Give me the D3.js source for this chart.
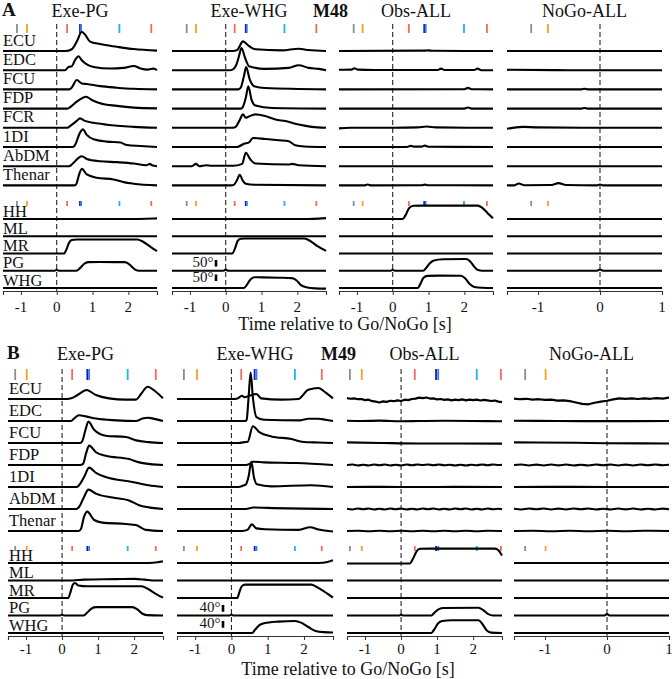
<!DOCTYPE html>
<html><head><meta charset="utf-8">
<script src="https://cdn.jsdelivr.net/npm/d3@7"></script>
<style>body{margin:0;background:#fff} svg{display:block} text{font-family:'Liberation Serif','DejaVu Serif',serif}</style>
</head><body><svg id="c" width="672" height="679"></svg>
<script>
// ---------------- DATA ----------------
const musclesA = ['ECU','EDC','FCU','FDP','FCR','1DI','AbDM','Thenar'];
const musclesB = ['ECU','EDC','FCU','FDP','1DI','AbDM','Thenar'];
const kinLabels = ['HH','ML','MR','PG','WHG'];
const colTitles = ['Exe-PG','Exe-WHG','Obs-ALL','NoGo-ALL'];
const domainExe = [-1.5, 2.8];
const domainNoGo = [-1.5, 1];
const ticksExe = [-1, 0, 1, 2];
const ticksNoGo = [-1, 0, 1];
const markerColors = ['#7f8ea0','#f5a31c','#f26b5b','#1a1aa8','#2f7cff','#1ab4f0','#f26b5b'];

// event marker times [s]
const A_exePG_events = [-1.11,-0.83,0.29,0.65,0.68,1.75,2.64];
const A_exeWHG_events = [-1.09,-0.83,0.25,0.56,0.59,1.64,2.53];
const A_obs_events = [-1.09,-0.84,0.45,0.88,0.92,1.99,2.63];
const A_nogo_events = [-1.11,-0.84];
const B_exePG_events = [-1.30,-0.98,0.28,0.70,0.75,1.82,2.60];
const B_exeWHG_events = [-1.31,-0.95,0.27,0.64,0.69,1.75,2.49];
const B_obs_events = [-1.42,-1.09,0.38,0.97,1.03,2.10,2.77];
const B_nogo_events = [-1.32,-0.99];

// EMG envelopes: [time s, amplitude in row units]
const A_exePG_emg = [
 [[-1.5,0],[0.25,0],[0.42,0.09],[0.56,0.49],[0.7,1.0],[0.8,0.83],[0.93,0.49],[1.21,0.36],[1.68,0.22],[2.15,0.1],[2.8,0.02]],
 [[-1.5,0],[0.23,0],[0.33,0.17],[0.42,0.2],[0.51,0.52],[0.61,0.73],[0.7,0.52],[0.84,0.3],[1.03,0.17],[1.5,0.09],[1.87,0.12],[2.15,0.22],[2.34,0.09],[2.55,0.03],[2.62,0.06],[2.7,0.08],[2.8,0.0]],
 [[-1.5,0],[0.35,0],[0.42,0.1],[0.56,0.49],[0.7,0.31],[0.84,0.28],[1.21,0.17],[1.68,0.09],[2.15,0.03],[2.8,0]],
 [[-1.5,0],[0.3,0],[0.37,0.07],[0.56,0.36],[0.82,0.62],[0.98,0.45],[1.21,0.28],[1.68,0.14],[2.15,0.05],[2.8,0.01]],
 [[-1.5,0],[0.3,0],[0.37,0.09],[0.56,0.36],[0.65,0.49],[0.79,0.36],[1.03,0.26],[1.4,0.16],[2.15,0.05],[2.8,0]],
 [[-1.5,0],[0.45,0],[0.51,0.1],[0.64,0.71],[0.73,0.92],[0.84,0.63],[1.03,0.4],[1.4,0.28],[1.78,0.23],[1.96,0.1],[2.34,0.05],[2.8,0]],
 [[-1.5,0],[0.35,0],[0.42,0.09],[0.61,0.43],[0.7,0.52],[0.84,0.38],[1.21,0.26],[1.68,0.21],[2.15,0.14],[2.5,0.05],[2.6,0.12],[2.66,0.05],[2.8,0]],
 [[-1.5,0],[0.48,0],[0.54,0.05],[0.64,0.66],[0.7,0.87],[0.84,0.57],[1.12,0.4],[1.59,0.31],[1.87,0.17],[2.15,0.09],[2.8,0]]
];
const A_exeWHG_emg = [
 [[-1.5,0],[0.2,0],[0.32,0.05],[0.48,0.5],[0.65,0.26],[0.83,0.09],[1.57,0.03],[2.04,0.12],[2.31,0.05],[2.8,0]],
 [[-1.5,0],[0.1,0],[0.19,0.03],[0.3,0.3],[0.37,0.73],[0.44,1.16],[0.54,0.64],[0.65,0.21],[1.1,0.07],[1.76,0.12],[2.04,0.26],[2.31,0.12],[2.6,0.07],[2.8,0]],
 [[-1.5,0],[0.35,0],[0.42,0.09],[0.51,0.7],[0.57,1.16],[0.67,0.52],[0.79,0.17],[1.1,0.07],[2.8,0]],
 [[-1.5,0],[0.42,0],[0.48,0.09],[0.56,0.56],[0.63,1.16],[0.72,0.47],[0.83,0.16],[1.3,0.03],[2.8,0]],
 [[-1.5,0],[0.2,0],[0.28,0.05],[0.39,0.4],[0.48,0.7],[0.56,0.52],[0.63,0.57],[0.83,0.7],[1.1,0.61],[1.39,0.43],[1.67,0.35],[2.04,0.17],[2.4,0.05],[2.8,0]],
 [[-1.5,0],[0.3,0],[0.37,0.03],[0.51,0.17],[0.65,0.24],[0.76,0.47],[1.1,0.42],[1.48,0.35],[1.76,0.3],[1.94,0.09],[2.2,0.03],[2.8,0]],
 [[-1.5,0],[-0.95,0],[-0.83,0.12],[-0.74,0],[-0.55,0.05],[-0.4,0.02],[0.2,0.02],[0.46,0.12],[0.56,0.7],[0.69,0.35],[0.83,0.14],[1.76,0.09],[1.85,0.12],[2.04,0.05],[2.8,0]],
 [[-1.5,0],[0.15,0],[0.23,0.03],[0.32,0.3],[0.39,0.55],[0.48,0.24],[0.56,0.09],[0.8,0.03],[2.8,0]]
];
const A_obs_emg = [
 [[-1.5,0],[0.9,0.02],[1.0,0.03],[1.1,0.01],[2.8,0]],
 [[-1.5,0.02],[-1.15,0.03],[-1.07,0.1],[-0.98,0.03],[-0.5,0.01],[1.25,0.01],[1.35,0.08],[1.45,0.01],[2.27,0.01],[2.37,0.08],[2.47,0.0],[2.8,0]],
 [[-1.5,0],[2.0,0.01],[2.1,0.08],[2.2,0.01],[2.8,0]],
 [[-1.5,0],[2.0,0.0],[2.1,0.06],[2.2,0.0],[2.8,0]],
 [[-1.5,-0.03],[-1.2,0],[0,0],[0.7,0.02],[0.94,0.07],[1.2,0.02],[2.8,0]],
 [[-1.5,0],[0.4,0],[0.5,0.06],[0.6,0.02],[0.8,0.02],[0.9,0.07],[1.0,0.01],[2.8,0]],
 [[-1.5,0],[2.8,0]],
 [[-1.5,0],[-0.8,0],[-0.7,0.05],[-0.6,0],[0.8,0.01],[0.9,0.04],[1.0,0.01],[2.8,0]]
];
const A_nogo_emg = [
 [[-1.5,0],[1,0]],
 [[-1.5,0.02],[-0.5,0.0],[1,0]],
 [[-1.5,0],[-0.3,0.0],[-0.25,0.03],[-0.2,0],[1,0]],
 [[-1.5,0],[-0.3,0],[-0.25,0.03],[-0.2,0],[1,0]],
 [[-1.5,-0.05],[-1.25,0.05],[-1.0,0.02],[0,0],[1,0]],
 [[-1.5,0],[1,0]],
 [[-1.5,0],[1,0]],
 [[-1.5,0],[-1.38,0],[-1.31,0.1],[-1.22,0.01],[-0.78,0.02],[-0.67,0.12],[-0.55,0.02],[-0.05,0],[0,0.05],[0.05,0],[1,0]]
];
const B_exePG_emg = [
 [[-1.5,0],[0.15,0],[0.25,0.03],[0.43,0.18],[0.68,0.41],[0.94,0.18],[1.3,0.03],[1.77,-0.03],[2.05,-0.03],[2.2,0.25],[2.37,0.56],[2.6,0.33],[2.8,0.03]],
 [[-1.5,0],[0.25,0],[0.33,0.11],[0.47,0.26],[0.66,0.21],[0.94,0.11],[1.5,0.03],[2.05,0],[2.23,0.11],[2.37,0.15],[2.5,0.12],[2.8,0]],
 [[-1.5,0],[0.5,0],[0.56,0.08],[0.65,0.6],[0.73,0.98],[0.89,0.6],[1.21,0.33],[1.77,0.27],[2.05,0.12],[2.4,0.04],[2.8,0]],
 [[-1.5,0],[0.5,0],[0.58,0.05],[0.67,0.55],[0.75,0.88],[0.94,0.58],[1.21,0.42],[1.86,0.27],[2.14,0.12],[2.5,0.03],[2.8,0]],
 [[-1.5,0],[0.4,0],[0.47,0.08],[0.61,0.45],[0.75,0.88],[0.94,0.64],[1.21,0.45],[1.95,0.23],[2.4,0.08],[2.8,0]],
 [[-1.5,0],[0.4,0],[0.47,0.09],[0.61,0.55],[0.73,0.88],[0.94,0.7],[1.4,0.52],[1.86,0.39],[2.14,0.17],[2.5,0.05],[2.8,0]],
 [[-1.5,0],[0.45,0],[0.52,0.08],[0.61,0.65],[0.7,0.88],[0.89,0.5],[1.12,0.38],[1.77,0.32],[2.05,0.27],[2.32,0.05],[2.8,0]]
];
const B_exeWHG_emg = [
 [[-1.5,0],[0.1,0],[0.18,0.03],[0.29,0.15],[0.36,0.08],[0.5,0.15],[0.69,0.23],[0.82,0.03],[1.37,-0.03],[1.84,0],[2.12,0.42],[2.4,0.5],[2.59,0.3],[2.8,0.03]],
 [[-1.5,0],[0.38,0],[0.42,0.05],[0.47,1.0],[0.53,2.2],[0.59,1.1],[0.69,0.18],[0.9,0.06],[1.9,0.03],[2.12,0.1],[2.4,0.1],[2.59,0.06],[2.8,0]],
 [[-1.5,0],[0.2,0],[0.32,0.03],[0.45,0.06],[0.59,0.76],[0.78,0.48],[1.1,0.3],[1.66,0.18],[1.94,0.06],[2.4,0.02],[2.8,0]],
 [[-1.5,0],[0.4,0],[0.5,0.05],[0.6,0.15],[0.9,0.12],[1.8,0.09],[2.8,0]],
 [[-1.5,0],[0.2,0],[0.3,0.05],[0.4,0.12],[0.47,0.45],[0.55,1.14],[0.62,0.45],[0.7,0.12],[1.1,0.03],[2.2,0.08],[2.8,0]],
 [[-1.5,0],[0.4,0],[0.6,0.07],[1.0,0.05],[2.8,0]],
 [[-1.5,0],[0.3,0],[0.45,0.06],[0.56,0.3],[0.69,0.12],[0.92,0.08],[1.85,0.05],[2.17,0.17],[2.4,0.07],[2.8,-0.02]]
];
// noisy ECU traces, sampled every 0.1 s from -1.5 s
const B_obs_ECU = [0.04,0.01,0.03,-0.01,0.0,-0.05,-0.03,-0.1,-0.12,-0.16,-0.11,-0.13,-0.08,-0.1,-0.06,-0.09,-0.03,-0.05,0.0,0.02,0.06,0.04,0.07,0.02,0.03,-0.02,0.0,-0.04,-0.02,-0.06,-0.03,-0.05,-0.02,-0.06,-0.03,-0.05,-0.03,-0.07,-0.04,-0.06,-0.09,-0.07,-0.12,-0.14];
const B_nogo_ECU = [0.02,-0.01,0.01,-0.03,-0.01,-0.04,-0.03,-0.07,-0.06,-0.1,-0.16,-0.22,-0.24,-0.17,-0.12,-0.08,-0.02,0.03,0.01,0.03,0.0,0.03,0.01,0.04,0.02,0.06];
const B_obs_emg = [
 null,
 [[-1.5,0.01],[-1.1,0.0],[-0.6,0.015],[0,-0.01],[0.5,0.0],[1.2,0.01],[2.0,0.0],[2.8,-0.01]],
 [[-1.5,0.03],[-0.5,0.0],[0.5,-0.02],[1.5,-0.02],[2.8,-0.03]],
 [[-1.5,0],[-1.35,0.02],[-1.2,-0.02],[-1.05,0.01],[-0.9,-0.02],[-0.75,0.02],[-0.6,-0.01],[-0.45,0.02],[-0.3,-0.02],[-0.15,0.01],[0,-0.02],[0.15,0.02],[0.3,-0.01],[0.45,0.02],[0.6,0.0],[0.75,0.02],[0.9,-0.01],[1.05,0.02],[1.2,-0.01],[1.35,0.01],[1.5,-0.02],[1.65,0.01],[1.8,-0.02],[1.95,0.01],[2.1,-0.01],[2.25,0.02],[2.4,-0.01],[2.55,0.02],[2.7,0.0],[2.8,0.01]],
 [[-1.5,0],[-0.5,0.005],[0.5,0],[1.5,0.005],[2.8,0]],
 [[-1.5,0.01],[-1.35,-0.02],[-1.2,0.02],[-1.05,-0.01],[-0.9,0.02],[-0.75,-0.02],[-0.6,0.01],[-0.45,-0.02],[-0.3,0.02],[-0.15,-0.01],[0,0.02],[0.15,-0.02],[0.3,0.01],[0.45,-0.02],[0.6,0.02],[0.75,-0.01],[0.9,0.02],[1.05,-0.02],[1.2,0.01],[1.35,-0.02],[1.5,0.02],[1.65,-0.01],[1.8,0.02],[1.95,-0.02],[2.1,0.01],[2.25,-0.02],[2.4,0.02],[2.55,-0.01],[2.7,0.01],[2.8,-0.01]],
 [[-1.5,0],[-1.2,0.01],[-0.9,-0.01],[-0.6,0.01],[-0.3,-0.01],[0,0.01],[0.3,-0.01],[0.6,0.01],[0.9,-0.01],[1.2,0.01],[1.5,-0.01],[1.8,0.01],[2.1,-0.01],[2.4,0.01],[2.8,0]]
];
const B_nogo_emg = [
 null,
 [[-1.5,0.01],[-0.8,0.0],[0,-0.005],[1,0.0]],
 [[-1.5,0.03],[-0.5,0.01],[0,-0.01],[1,-0.02]],
 [[-1.5,0],[-1.38,0.02],[-1.26,-0.02],[-1.14,0.015],[-1.02,-0.02],[-0.9,0.02],[-0.78,-0.015],[-0.66,0.02],[-0.54,-0.02],[-0.42,0.01],[-0.3,-0.02],[-0.18,0.02],[-0.06,-0.01],[0.06,0.02],[0.18,-0.02],[0.3,0.015],[0.42,-0.02],[0.54,0.02],[0.66,-0.01],[0.78,0.02],[0.9,-0.01],[1,0.01]],
 [[-1.5,0],[-0.5,0.005],[0.5,0],[1,0]],
 [[-1.5,0.01],[-1.38,-0.02],[-1.26,0.02],[-1.14,-0.01],[-1.02,0.02],[-0.9,-0.02],[-0.78,0.015],[-0.66,-0.02],[-0.54,0.02],[-0.42,-0.01],[-0.3,0.02],[-0.18,-0.02],[-0.06,0.01],[0.06,-0.02],[0.18,0.02],[0.3,-0.015],[0.42,0.02],[0.54,-0.02],[0.66,0.01],[0.78,-0.02],[0.9,0.015],[1,-0.01]],
 [[-1.5,0],[-1.2,0.01],[-0.9,-0.01],[-0.6,0.01],[-0.3,-0.01],[0,0.01],[0.3,-0.01],[0.6,0.01],[1,0]]
];

// Kinematics: [time s, angle in degrees]
const A_exePG_kin = [
 [[-1.5,0],[2.1,0],[2.5,2],[2.8,5]],
 [[-1.5,0],[2.8,0]],
 [[-1.5,0],[0.2,0],[0.27,30],[0.34,80],[0.42,104],[0.55,108],[2.25,108],[2.4,92],[2.6,55],[2.8,18]],
 [[-1.5,0],[-0.06,0],[0,8],[0.06,0],[0.55,0],[0.65,20],[0.76,52],[0.88,66],[1.2,67],[1.9,66],[2.0,55],[2.1,30],[2.2,7],[2.3,0],[2.8,0]],
 [[-1.5,0],[2.8,0]]
];
const A_exeWHG_kin = [
 [[-1.5,0],[2.3,0],[2.6,3],[2.8,7]],
 [[-1.5,0],[2.8,0]],
 [[-1.5,0],[0.18,0],[0.26,40],[0.33,95],[0.42,114],[0.55,115],[2.2,115],[2.35,98],[2.55,58],[2.8,20]],
 [[-1.5,0],[-0.06,0],[0,9],[0.06,0],[2.8,0]],
 [[-1.5,0],[0.5,0],[0.58,20],[0.68,62],[0.8,83],[1.0,82],[1.5,79],[1.85,76],[1.98,58],[2.1,22],[2.25,5],[2.5,-3],[2.8,-5]]
];
const A_obs_kin = [
 [[-1.5,0],[0.28,0],[0.36,30],[0.46,85],[0.58,102],[0.8,103],[2.38,103],[2.5,85],[2.65,45],[2.8,5]],
 [[-1.5,0],[2.8,0]],
 [[-1.5,0],[2.8,0]],
 [[-1.5,0],[-0.06,0],[0,8],[0.06,0],[0.85,0],[0.93,20],[1.03,55],[1.15,78],[1.4,88],[2.05,90],[2.15,75],[2.28,30],[2.38,5],[2.5,0],[2.8,0]],
 [[-1.5,0],[0.7,0],[0.77,30],[0.86,78],[0.97,93],[1.3,95],[1.9,94],[2.02,75],[2.15,30],[2.28,8],[2.5,2],[2.8,0]]
];
const A_nogo_kin = [
 [[-1.5,0],[1,0]],
 [[-1.5,0],[1,0]],
 [[-1.5,0],[1,0]],
 [[-1.5,0],[-0.05,0],[0,10],[0.05,0],[1,0]],
 [[-1.5,0],[1,0]]
];
const B_exePG_kin = [
 [[-1.5,0],[2.4,0],[2.65,4],[2.8,10]],
 [[-1.5,0],[0.3,0],[0.6,5],[1.5,8],[2.0,10],[2.3,5],[2.5,0],[2.8,0]],
 [[-1.5,0],[0.17,0],[0.24,40],[0.3,80],[0.36,90],[0.45,75],[0.7,70],[2.2,70],[2.4,52],[2.6,25],[2.8,2]],
 [[-1.5,0],[-0.05,0],[0,6],[0.05,0],[0.6,0],[0.7,18],[0.82,42],[0.95,50],[1.95,50],[2.08,38],[2.22,12],[2.35,2],[2.8,0]],
 [[-1.5,0],[2.8,0]]
];
const B_exeWHG_kin = [
 [[-1.5,0],[2.4,0],[2.65,6],[2.8,16]],
 [[-1.5,0],[2.8,0]],
 [[-1.5,0],[0.16,0],[0.22,35],[0.29,72],[0.38,80],[2.2,80],[2.35,66],[2.55,40],[2.8,2]],
 [[-1.5,0],[-0.05,0],[0,6],[0.05,0],[2.8,0]],
 [[-1.5,0],[0.57,0],[0.66,22],[0.78,48],[0.9,58],[1.3,68],[1.75,72],[1.92,62],[2.12,36],[2.32,12],[2.55,5],[2.8,3]]
];
const B_obs_kin = [
 [[-1.5,-3],[0.24,-3],[0.33,25],[0.43,70],[0.53,85],[0.8,86],[2.6,86],[2.7,76],[2.8,45]],
 [[-1.5,0],[2.8,0]],
 [[-1.5,0],[2.8,0]],
 [[-1.5,0],[-0.05,0],[0,6],[0.05,0],[0.84,0],[0.93,18],[1.05,38],[1.18,45],[2.15,46],[2.28,32],[2.42,8],[2.55,0],[2.8,0]],
 [[-1.5,0],[0.84,0],[0.93,25],[1.03,58],[1.14,72],[1.4,76],[2.15,76],[2.26,52],[2.38,15],[2.5,2],[2.8,0]]
];
const B_nogo_kin = [
 [[-1.5,0],[1,0]],
 [[-1.5,0],[1,0]],
 [[-1.5,0],[1,0]],
 [[-1.5,0],[-0.05,0],[0,8],[0.05,0],[1,0]],
 [[-1.5,0],[1,0]]
];
const scaleBarA = 50, scaleBarB = 40;

// ---------------- DRAW ----------------
const FONT = "'Liberation Serif','DejaVu Serif',serif";
const svg = d3.select('#c');

B_obs_emg[0] = B_obs_ECU.map((v,i)=>[-1.5 + i*0.1, v]);
B_nogo_emg[0] = B_nogo_ECU.map((v,i)=>[-1.5 + i*0.1, v]);

const panels = [
 { letter:'A', monkey:'M48', muscles:musclesA,
   cols:[
    {domain:domainExe, ticks:ticksExe, events:A_exePG_events, emg:A_exePG_emg, kin:A_exePG_kin},
    {domain:domainExe, ticks:ticksExe, events:A_exeWHG_events, emg:A_exeWHG_emg, kin:A_exeWHG_kin},
    {domain:domainExe, ticks:ticksExe, events:A_obs_events, emg:A_obs_emg, kin:A_obs_kin},
    {domain:domainNoGo, ticks:ticksNoGo, events:A_nogo_events, emg:A_nogo_emg, kin:A_nogo_kin}],
   colX:[[3,157],[172,326],[339,493],[507,662]],
   letterX:2, labelX:3, titleY:16.5, monkeyX:313,
   emgMarkY:[24,33], kinMarkY:[201,206],
   emgBase0:51, emgStep:19.2, kinBase0:219, kinStep:17.25,
   axisY:291, tickLabelY:312, xlabelY:329.5, xlabelX:345,
   pxPerDeg:6.5/50, bar:scaleBarA, barTextX:213.5, barX:214.7, bars:[[260,266.5],[274.5,281]],
   noisyCols:[] },
 { letter:'B', monkey:'M49', muscles:musclesB,
   cols:[
    {domain:domainExe, ticks:ticksExe, events:B_exePG_events, emg:B_exePG_emg, kin:B_exePG_kin},
    {domain:domainExe, ticks:ticksExe, events:B_exeWHG_events, emg:B_exeWHG_emg, kin:B_exeWHG_kin},
    {domain:domainExe, ticks:ticksExe, events:B_obs_events, emg:B_obs_emg, kin:B_obs_kin},
    {domain:domainNoGo, ticks:ticksNoGo, events:B_nogo_events, emg:B_nogo_emg, kin:B_nogo_kin}],
   colX:[[8,163],[177,333],[347,502],[514,669]],
   letterX:7, labelX:9, titleY:360, monkeyX:321,
   emgMarkY:[369,380], kinMarkY:[546,551],
   emgBase0:399, emgStep:22, kinBase0:563, kinStep:17.5,
   axisY:636, tickLabelY:654, xlabelY:675, xlabelX:348,
   pxPerDeg:6.7/40, bar:scaleBarB, barTextX:220.5, barX:221.7, bars:[[605,611.7],[621,627.7]],
   noisyCols:[2,3] }
];

function txt(g, x, y, s, size, anchor, weight){
  return g.append('text').attr('x',x).attr('y',y).attr('text-anchor',anchor||'start')
    .attr('font-family',FONT).attr('font-size',size).attr('font-weight',weight||'normal')
    .attr('fill','#111').text(s);
}

panels.forEach(P => {
  const g = svg.append('g');
  txt(g, P.letterX, P.titleY-1, P.letter, 19, 'start', 'bold');
  txt(g, P.monkeyX, P.titleY, P.monkey, 18, 'start', 'bold');

  P.cols.forEach((col, ci) => {
    const [x0, x1] = P.colX[ci];
    const x = d3.scaleLinear().domain(col.domain).range([x0, x1]);
    txt(g, (x0+x1)/2, P.titleY, colTitles[ci], 18, 'middle');

    g.append('line').attr('x1',x(0)).attr('x2',x(0)).attr('y1',P.emgMarkY[0]).attr('y2',P.axisY)
      .attr('stroke','#111').attr('stroke-width',1).attr('stroke-dasharray','5,3');

    [P.emgMarkY, P.kinMarkY].forEach(my => {
      g.selectAll(null).data(col.events).enter().append('line')
        .attr('x1', d=>x(d)).attr('x2', d=>x(d)).attr('y1', my[0]).attr('y2', my[1])
        .attr('stroke', (d,i)=>markerColors[i]).attr('stroke-width', 1.8);
    });

    col.emg.forEach((tr, ri) => {
      const base = P.emgBase0 + ri*P.emgStep;
      const y = d3.scaleLinear().domain([0,1]).range([base, base - P.emgStep]);
      const noisy = P.noisyCols.includes(ci) && ri === 0;
      const line = d3.line().x(d=>x(d[0])).y(d=>y(d[1]))
        .curve(noisy ? d3.curveLinear : d3.curveMonotoneX);
      g.append('path').attr('d', line(tr)).attr('fill','none').attr('stroke','#000')
        .attr('stroke-width', noisy ? 2.2 : 2.1).attr('stroke-linejoin','round');
    });

    col.kin.forEach((tr, ri) => {
      const base = P.kinBase0 + ri*P.kinStep;
      const y = d3.scaleLinear().domain([0,1]).range([base, base - P.pxPerDeg]);
      const line = d3.line().x(d=>x(d[0])).y(d=>y(d[1])).curve(d3.curveMonotoneX);
      g.append('path').attr('d', line(tr)).attr('fill','none').attr('stroke','#000')
        .attr('stroke-width',2.1).attr('stroke-linejoin','round');
    });

    const ax = d3.axisBottom(x).tickValues(col.ticks).tickSize(4).tickSizeOuter(4).tickFormat(d=>String(d));
    const ag = g.append('g').attr('transform',`translate(0,${P.axisY})`).call(ax);
    ag.select('.domain').attr('stroke','#333').attr('stroke-width',1.1);
    ag.selectAll('.tick line').attr('stroke','#333').attr('stroke-width',1);
    ag.selectAll('.tick text').remove();
    col.ticks.forEach(t => txt(g, x(t), P.tickLabelY, String(t), 15, 'middle'));

    if (ci === 1) {
      P.bars.forEach(b => {
        g.append('rect').attr('x',P.barX).attr('y',b[0]).attr('width',2.6).attr('height',b[1]-b[0]).attr('fill','#000');
        txt(g, P.barTextX, b[1]+0.5, P.bar + '°', 15, 'end');
      });
    }
  });

  P.muscles.forEach((m, ri) => txt(g, P.labelX, P.emgBase0 + ri*P.emgStep - 5.5, m, 16.5));
  kinLabels.forEach((m, ri) => txt(g, P.labelX, P.kinBase0 + ri*P.kinStep - 2.3, m, 16.5));

  txt(g, P.xlabelX, P.xlabelY, 'Time relative to Go/NoGo [s]', 18, 'middle');
});
</script></body></html>
